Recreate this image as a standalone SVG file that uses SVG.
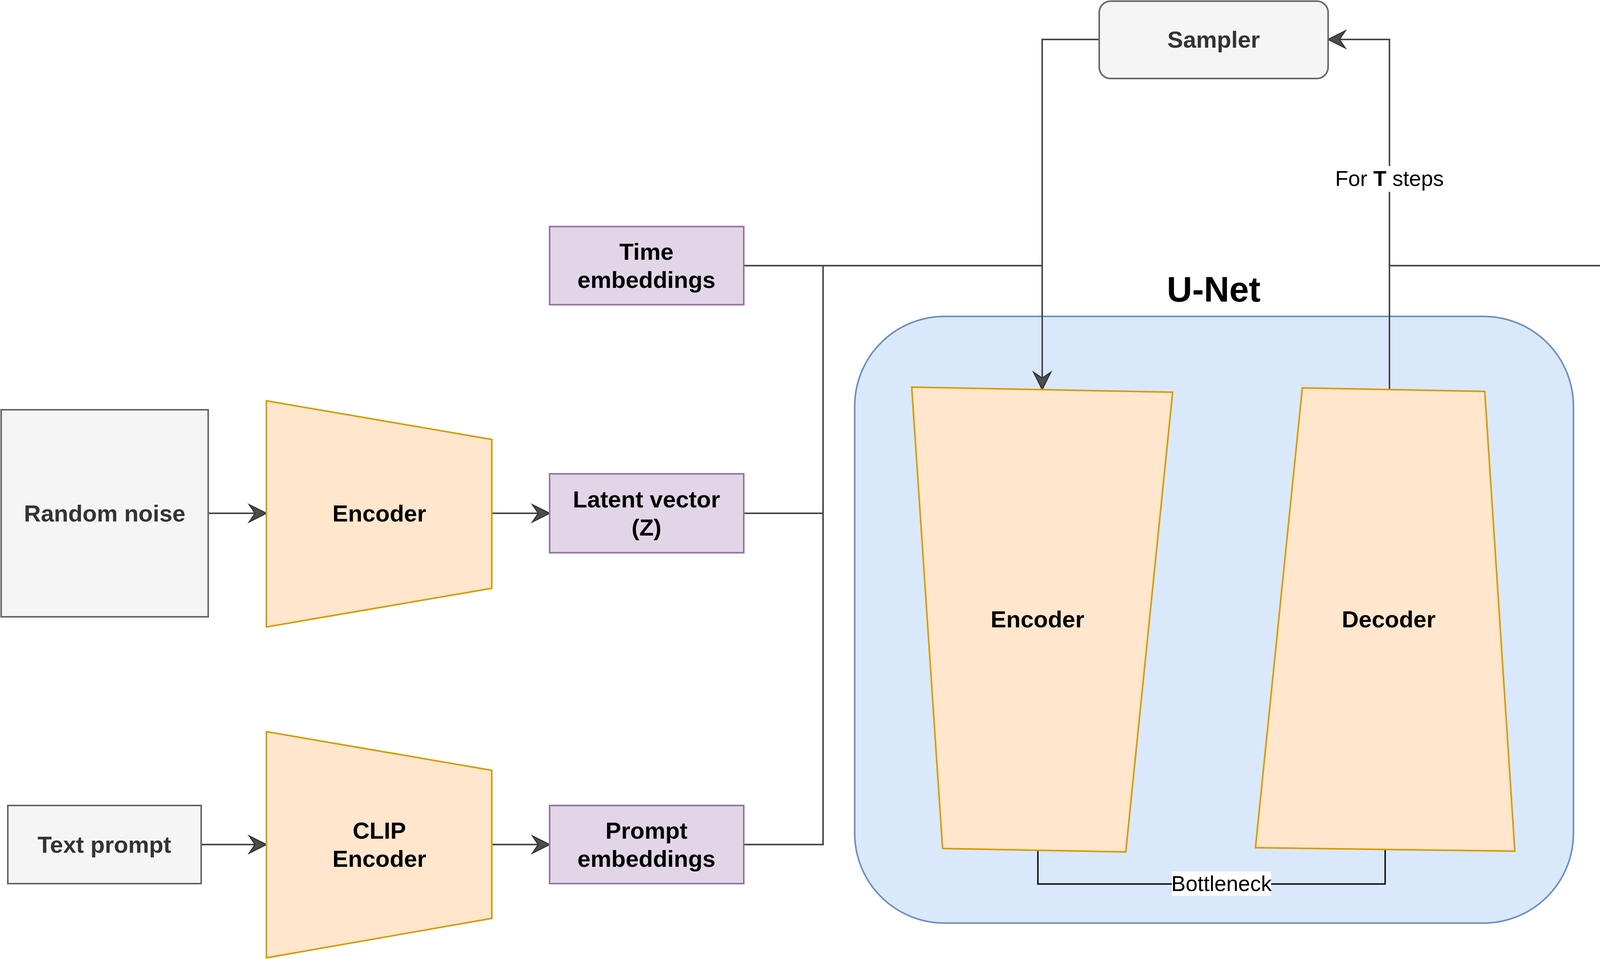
<svg xmlns="http://www.w3.org/2000/svg" width="6765" height="2455" viewBox="0 0 6765 2455">
<style>
text{font-family:"Liberation Sans",Arial,Helvetica,sans-serif;text-anchor:middle}
.gray{fill:#f5f5f5;stroke:#666666;stroke-width:4}
.orange{fill:#ffe6cc;stroke:#d79b00;stroke-width:4;stroke-linejoin:miter}
.purple{fill:#e1d5e7;stroke:#9673a6;stroke-width:4}
.blue{fill:#dae8fc;stroke:#6c8ebf;stroke-width:4}
.lbl{font-size:60px;font-weight:bold;fill:#000}
.glbl{font-size:60px;font-weight:bold;fill:#333333}
.edge{fill:none;stroke:#474747;stroke-width:4}
.arr{marker-end:url(#arrow)}
.bn{fill:none;stroke:#000;stroke-width:3.5}
.elbl{font-size:55px;fill:#000}
.bg{fill:#ffffff}
</style>
<defs>
<marker id="arrow" markerUnits="userSpaceOnUse" markerWidth="48" markerHeight="48" refX="44" refY="22" orient="auto" overflow="visible">
<path d="M0,0 L44,22 L0,44 L15,22 Z" fill="#4d4d4d" stroke="#333333" stroke-width="3" stroke-linejoin="miter"/>
</marker>
</defs>
<rect width="6765" height="2455" fill="#ffffff"/>

<g id="unet">
<rect class="blue" x="2188" y="810" width="1840" height="1553" rx="230" ry="230"/>
<text class="lbl" x="3107" y="772" style="font-size:90px">U-Net</text>
</g>

<g id="connectors">
<path class="edge arr" d="M533,1314 H682"/>
<path class="edge arr" d="M1259,1314 H1407"/>
<path class="edge arr" d="M515,2162 H682"/>
<path class="edge arr" d="M1259,2162 H1407"/>
<path class="edge" d="M1904,680 H2668"/>
<path class="edge" d="M1904,1314 H2107 V680"/>
<path class="edge" d="M1904,2162 H2107 V680"/>
<path class="edge arr" d="M2814,101 H2668 V997"/>
<path class="edge arr" d="M3557,997 V101 H3400"/>
<path class="edge arr" d="M3557,680 H4293 V1548 H4556"/>
<path class="edge arr" d="M5054,1548 H5203"/>
<path class="edge arr" d="M5779,1548 H5928"/>
<path class="bn" d="M2657,2177 V2263 H3546 V2175"/>
<rect class="bg" x="3418" y="425" width="278" height="66"/>
<text class="elbl" x="3557" y="476">For <tspan font-weight="bold">T</tspan> steps</text>
<rect class="bg" x="4137" y="1088" width="312" height="66"/>
<text class="elbl" x="4293" y="1141">After <tspan font-weight="bold">T</tspan> steps</text>
<rect class="bg" x="3000" y="2231" width="254" height="62"/>
<text class="elbl" x="3127" y="2281">Bottleneck</text>
</g>

<g id="random-noise">
<rect class="gray" x="3" y="1049" width="530" height="530"/>
<text class="glbl" x="268" y="1335">Random noise</text>
</g>
<g id="encoder">
<polygon class="orange" points="682,1026 1259,1125 1259,1506 682,1605"/>
<text class="lbl" x="971" y="1335">Encoder</text>
</g>
<g id="latent-z">
<rect class="purple" x="1407" y="1213" width="497" height="202"/>
<text class="lbl" x="1655" y="1299">Latent vector</text>
<text class="lbl" x="1655" y="1371">(Z)</text>
</g>
<g id="time-embeddings">
<rect class="purple" x="1407" y="580" width="497" height="200"/>
<text class="lbl" x="1655" y="665">Time</text>
<text class="lbl" x="1655" y="737">embeddings</text>
</g>
<g id="text-prompt">
<rect class="gray" x="20" y="2062" width="495" height="200"/>
<text class="glbl" x="267" y="2183">Text prompt</text>
</g>
<g id="clip-encoder">
<polygon class="orange" points="682,1873 1259,1972 1259,2351 682,2452"/>
<text class="lbl" x="971" y="2147">CLIP</text>
<text class="lbl" x="971" y="2219">Encoder</text>
</g>
<g id="prompt-embeddings">
<rect class="purple" x="1407" y="2062" width="497" height="200"/>
<text class="lbl" x="1655" y="2147">Prompt</text>
<text class="lbl" x="1655" y="2219">embeddings</text>
</g>
<g id="sampler">
<rect class="gray" x="2814" y="3" width="586" height="198" rx="29" ry="29"/>
<text class="glbl" x="3107" y="122">Sampler</text>
</g>
<g id="unet-encoder">
<polygon class="orange" points="2334,991 3002,1004 2882,2181 2413,2172"/>
<text class="lbl" x="2656" y="1606">Encoder</text>
</g>
<g id="unet-decoder">
<polygon class="orange" points="3334,993 3801,1002 3878,2179 3214,2170"/>
<text class="lbl" x="3555" y="1606">Decoder</text>
</g>
<g id="latent-z-prime">
<rect class="purple" x="4556" y="1448" width="498" height="200"/>
<text class="lbl" x="4805" y="1533">Latent vector</text>
<text class="lbl" x="4805" y="1605">(Z')</text>
</g>
<g id="decoder">
<polygon class="orange" points="5203,1260 5779,1359 5779,1738 5203,1836"/>
<text class="lbl" x="5492" y="1568">Decoder</text>
</g>
<g id="x-prime">
<rect class="gray" x="5928" y="1284" width="172" height="530"/>
<text class="glbl" x="6014" y="1569">X'</text>
</g>
<g id="generated-image">
<rect class="gray" x="6234" y="1285" width="527" height="530"/>
<text class="glbl" x="6497" y="1571">Generated Image</text>
</g>
</svg>
